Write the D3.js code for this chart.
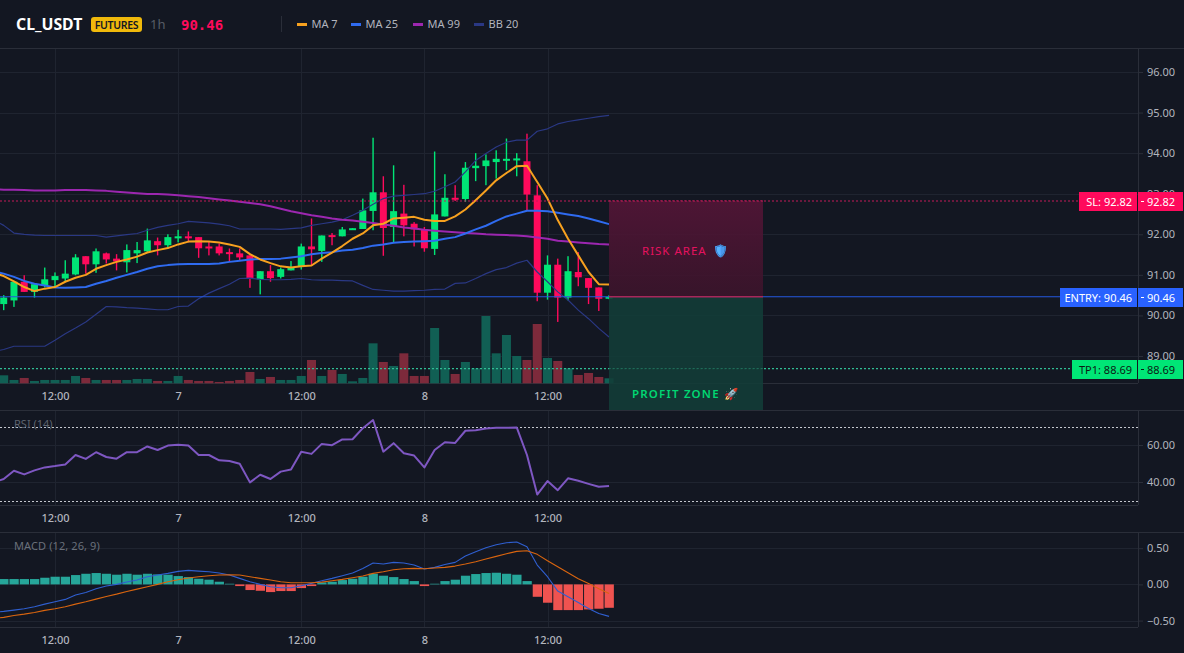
<!DOCTYPE html>
<html>
<head>
<meta charset="utf-8">
<title>CL_USDT 1h</title>
<script src="https://cdn.jsdelivr.net/npm/d3@7/dist/d3.min.js"></script>
<style>
html,body{margin:0;padding:0;background:#131722;overflow:hidden}
svg{display:block}
text{font-family:"Noto Sans",sans-serif}
</style>
</head>
<body>
<svg id="chart" width="1184" height="653"></svg>
<script>
// Hourly bars, numbered relative to the first 12:00 mark on the time axis
const firstBar = -6;
const opens = [90.22,90.28,90.37,90.83,90.58,90.74,90.87,90.91,91.01,91.46,91.26,91.53,91.40,91.31,91.53,91.58,91.83,91.73,91.90,91.95,91.93,91.70,91.70,91.56,91.53,91.48,90.89,91.09,90.95,91.11,91.20,91.70,91.59,91.98,91.95,92.12,92.13,92.575,93.035,92.18,92.51,92.26,92.12,91.64,92.44,92.90,92.87,93.63,93.68,93.78,93.85,93.86,93.80,92.96,90.56,91.25,90.44,91.07,90.92,90.69,90.42];
const highs = [90.35,90.50,90.83,90.99,90.77,91.18,91.06,91.36,91.51,91.46,91.65,91.55,91.51,91.75,91.81,92.14,91.92,92.00,92.11,92.07,91.93,91.81,91.77,91.65,91.65,91.48,91.09,91.24,91.18,91.34,91.77,92.39,91.97,92.03,92.18,92.15,92.88,94.38,93.43,93.70,93.22,92.30,92.18,94.04,93.48,93.21,93.78,94.00,93.97,94.07,94.36,94.00,94.48,93.21,91.48,91.40,91.46,91.56,90.92,90.69,90.50];
const lows = [90.05,90.13,90.21,90.58,90.44,90.69,90.70,90.83,90.99,91.03,91.05,91.28,91.11,91.06,91.29,91.54,91.48,91.65,91.80,91.80,91.42,91.48,91.48,91.335,91.36,90.68,90.52,90.83,90.91,91.11,91.13,91.24,91.32,91.73,91.95,92.12,92.13,92.10,91.47,91.81,91.95,91.70,91.57,91.49,92.44,92.82,92.80,93.31,93.21,93.37,93.58,93.43,92.59,90.35,90.39,89.84,90.37,90.72,90.28,90.11,90.40];
const closes = [90.30,90.44,90.83,90.58,90.77,90.89,90.97,91.03,91.43,91.26,91.58,91.38,91.33,91.61,91.61,91.85,91.73,91.93,91.95,91.90,91.655,91.65,91.53,91.52,91.43,90.90,91.09,90.92,91.14,91.18,91.70,91.63,91.97,91.935,92.12,92.15,92.59,93.035,92.155,92.57,92.22,92.12,91.655,92.49,92.90,92.86,93.64,93.69,93.82,93.86,93.86,93.87,92.98,90.56,91.25,90.44,91.09,90.94,90.68,90.41,90.46];
const volumes = [20,24,10,16,7,10,10,10,22,16,10,10,10,10,13,13,7,7,22,10,7,7,4,7,10,34,13,19,10,10,22,70,22,40,28,6,16,120,64,52,90,22,22,166,70,28,64,45,202,90,145,82,70,178,76,67,45,25,31,19,15];

// Moving averages and Bollinger Bands over the same bars
const ma7 = [91.05,90.97,90.84,90.70,90.60,90.66,90.70,90.83,90.93,91.00,91.15,91.24,91.32,91.38,91.45,91.55,91.61,91.66,91.75,91.82,91.83,91.82,91.80,91.75,91.69,91.51,91.38,91.29,91.21,91.18,91.21,91.23,91.40,91.55,91.71,91.89,92.02,92.22,92.26,92.39,92.41,92.43,92.36,92.33,92.33,92.44,92.61,92.84,93.08,93.33,93.51,93.68,93.69,93.29,92.88,92.35,91.89,91.48,91.07,90.77,90.76];
const ma25 = [91.09,91.03,90.95,90.85,90.78,90.74,90.69,90.68,90.69,90.70,90.78,90.85,90.93,91.00,91.07,91.15,91.21,91.24,91.26,91.27,91.27,91.27,91.28,91.32,91.35,91.38,91.39,91.39,91.40,91.43,91.46,91.51,91.54,91.56,91.60,91.62,91.66,91.72,91.75,91.79,91.81,91.82,91.83,91.84,91.89,91.93,92.02,92.12,92.21,92.33,92.44,92.51,92.58,92.58,92.57,92.53,92.49,92.45,92.39,92.32,92.25];
const ma99 = [93.11,93.10,93.10,93.09,93.08,93.08,93.08,93.09,93.09,93.09,93.08,93.07,93.05,93.03,93.01,92.99,92.99,92.98,92.96,92.94,92.92,92.89,92.86,92.83,92.80,92.77,92.74,92.69,92.63,92.57,92.52,92.47,92.43,92.39,92.36,92.34,92.31,92.28,92.24,92.21,92.17,92.14,92.11,92.09,92.07,92.05,92.03,92.02,92.00,91.99,91.98,91.97,91.95,91.92,91.89,91.84,91.82,91.80,91.78,91.76,91.75];
const bbUpper = [92.36,92.22,92.03,92.00,91.98,91.97,91.97,91.97,91.97,91.97,91.97,91.93,91.96,91.99,92.02,92.10,92.17,92.22,92.26,92.32,92.30,92.28,92.25,92.21,92.13,92.13,92.13,92.13,92.12,92.14,92.16,92.22,92.26,92.30,92.36,92.47,92.59,92.74,92.88,92.94,92.96,92.98,93.00,93.06,93.17,93.29,93.54,93.82,93.99,94.15,94.27,94.32,94.32,94.54,94.60,94.72,94.78,94.82,94.86,94.90,94.93];
const bbLower = [89.11,89.16,89.24,89.24,89.24,89.24,89.39,89.55,89.69,89.84,90.03,90.22,90.21,90.19,90.18,90.16,90.14,90.14,90.22,90.23,90.41,90.55,90.66,90.77,90.91,90.92,90.89,90.88,90.88,90.89,90.91,90.88,90.87,90.87,90.86,90.85,90.74,90.64,90.62,90.60,90.60,90.61,90.62,90.64,90.65,90.79,90.80,90.91,91.03,91.13,91.18,91.29,91.36,91.07,90.83,90.58,90.38,90.13,89.92,89.68,89.47];

// Oscillators
const rsi = [39.8,41.6,46.1,44.1,46.3,47.9,48.6,49.5,54.6,52.5,56.1,53.5,52.6,56.1,56.1,59.2,57.3,59.7,60.2,59.7,54.6,54.6,51.7,51.4,49.9,39.8,43.9,41.6,45.6,46.7,56.4,55.2,60.6,59.9,63.0,63.1,69.1,73.5,56.4,61.0,55.5,54.3,47.9,57.3,61.5,61.1,67.7,68.0,68.9,69.3,69.3,69.5,54.6,33.2,40.5,35.6,42.0,40.7,39.0,37.4,37.8];
const macd = [-0.387,-0.373,-0.355,-0.336,-0.309,-0.272,-0.240,-0.207,-0.147,-0.111,-0.060,-0.023,0,0.032,0.060,0.106,0.129,0.152,0.180,0.194,0.184,0.175,0.157,0.129,0.083,0.037,0,-0.032,-0.046,-0.046,-0.018,0.014,0.051,0.083,0.120,0.157,0.221,0.295,0.281,0.304,0.295,0.267,0.212,0.235,0.276,0.304,0.392,0.452,0.507,0.548,0.576,0.585,0.521,0.267,0.106,-0.092,-0.171,-0.249,-0.332,-0.401,-0.442];
const signal = [-0.470,-0.456,-0.429,-0.410,-0.387,-0.359,-0.336,-0.309,-0.272,-0.240,-0.203,-0.166,-0.134,-0.097,-0.065,-0.032,0,0.037,0.065,0.088,0.106,0.120,0.129,0.134,0.129,0.106,0.083,0.060,0.037,0.023,0.023,0.023,0.032,0.051,0.069,0.092,0.115,0.152,0.175,0.203,0.217,0.221,0.217,0.226,0.235,0.253,0.281,0.313,0.350,0.387,0.424,0.456,0.465,0.415,0.327,0.244,0.161,0.078,0.014,-0.060,-0.124];
const histogram = [0.074,0.074,0.074,0.074,0.074,0.092,0.106,0.106,0.129,0.147,0.157,0.147,0.134,0.147,0.134,0.147,0.138,0.134,0.115,0.101,0.078,0.065,0.037,0.009,-0.023,-0.078,-0.088,-0.106,-0.092,-0.092,-0.051,-0.023,0.028,0.037,0.060,0.078,0.106,0.147,0.120,0.101,0.074,0.046,-0.023,0.009,0.046,0.065,0.120,0.143,0.157,0.161,0.147,0.134,0.046,-0.171,-0.253,-0.355,-0.355,-0.355,-0.346,-0.336,-0.323];

// Axis content
const timeTicks = [0,12,24,36,48];
const timeLabels = ["12:00","7","12:00","8","12:00"];
const priceTicks = [96,95,94,93,92,91,90,89];
const rsiTicks = [60,40];
const rsiBands = [70,30];
const macdTicks = [0.5,0,-0.5];
const legendNames = ["MA 7","MA 25","MA 99","BB 20"];
const entryPrice = 90.46, stopPrice = 92.82, targetPrice = 88.69;

const C = {
  bg:"#131722", grid:"#1f2430", border:"#2a2e39", axis:"#b2b5be",
  up:"#00e676", down:"#ff0a5c", volUp:"#115f54", volDown:"#7d2a3b",
  ma7:"#f7a11f", ma25:"#2f6bf0", ma99:"#9c27b0", bb:"#2a3884", entry:"#2559e0",
  rsi:"#7e57c2", macd:"#2f5fd0", signal:"#d9650f", histUp:"#26a69a", histDown:"#ef5350"
};

const bars = d3.range(opens.length).map(i => firstBar + i);
const svg = d3.select("#chart");
const axisX = 1138, W = 1184;

const x = d3.scaleLinear().domain([0,48]).range([55,547.5]);
const yPrice = d3.scaleLinear().domain([89,96]).range([356,72]);
const yVol = d3.scaleLinear().domain([0,202]).range([383.3,316]);
const yRsi = d3.scaleLinear().domain([30,70]).range([500.5,426.5]);
const yMacd = d3.scaleLinear().domain([-0.5,0.5]).range([620.6,548.2]);

svg.append("rect").attr("width",W).attr("height",653).attr("fill",C.bg);

// Grids and axes for one pane
function drawPane(yScale, ticks, fmt, top, bottom, labelY){
  const g = svg.append("g");
  g.append("g").attr("transform",`translate(${axisX},0)`)
    .call(d3.axisRight(yScale).tickValues(ticks).tickSize(-axisX).tickFormat(""))
    .call(s => s.select(".domain").remove())
    .call(s => s.selectAll("line").attr("stroke",C.grid).attr("shape-rendering","crispEdges"));
  g.append("g").attr("transform",`translate(0,${bottom})`)
    .call(d3.axisBottom(x).tickValues(timeTicks).tickSize(-(bottom-top)).tickFormat(""))
    .call(s => s.select(".domain").remove())
    .call(s => s.selectAll("line").attr("stroke",C.grid).attr("shape-rendering","crispEdges"));
  const right = g.append("g").attr("class","price-axis").attr("transform",`translate(${axisX},0)`)
    .call(d3.axisRight(yScale).tickValues(ticks).tickSize(5).tickPadding(4).tickFormat(fmt));
  right.select(".domain").remove();
  right.selectAll("line").attr("stroke",C.border);
  right.selectAll("text").attr("fill",C.axis).attr("font-size",11).attr("font-family",'"Noto Sans",sans-serif');
  const bottomAxis = g.append("g").attr("transform",`translate(0,${bottom})`)
    .call(d3.axisBottom(x).tickValues(timeTicks).tickSize(0).tickPadding(labelY).tickFormat((d,i) => timeLabels[i]));
  bottomAxis.select(".domain").remove();
  bottomAxis.selectAll("text").attr("fill",C.axis).attr("font-size",11).attr("font-family",'"Noto Sans",sans-serif').attr("font-weight",500);
  [[0,bottom+0.5,axisX,bottom+0.5],[axisX+0.5,top,axisX+0.5,bottom]].forEach(l =>
    g.append("line").attr("x1",l[0]).attr("y1",l[1]).attr("x2",l[2]).attr("y2",l[3]).attr("stroke",C.border));
  return g;
}

drawPane(yPrice, priceTicks, d3.format(".2f"), 48, 383, 9);
drawPane(yRsi, rsiTicks, d3.format(".2f"), 410, 505, 9);
drawPane(yMacd, macdTicks, d3.format(".2f"), 532, 627, 9);

[48,410,532].forEach(y => svg.append("line").attr("x1",0).attr("x2",W).attr("y1",y+0.5).attr("y2",y+0.5).attr("stroke",C.border));

// Volume
const isUp = i => closes[i] >= opens[i];
svg.append("g").selectAll("rect").data(bars).join("rect")
  .attr("x",(d) => x(d)-4.5).attr("width",9)
  .attr("y",(d,i) => yVol(volumes[i])).attr("height",(d,i) => yVol(0)-yVol(volumes[i]))
  .attr("fill",(d,i) => isUp(i) ? C.volUp : C.volDown);

const priceLine = arr => d3.line().x((d,i) => x(bars[i])).y(d => yPrice(d))(arr);
function stroke(path, color, width){
  svg.append("path").attr("d",path).attr("fill","none").attr("stroke",color)
    .attr("stroke-width",width).attr("stroke-linejoin","round");
}

// Candles
const candles = svg.append("g").selectAll("g").data(bars).join("g")
  .attr("fill",(d,i) => isUp(i) ? C.up : C.down);
candles.append("rect")
  .attr("x",d => x(d)-0.7).attr("width",1.4)
  .attr("y",(d,i) => yPrice(highs[i])).attr("height",(d,i) => yPrice(lows[i])-yPrice(highs[i]));
candles.append("rect")
  .attr("x",d => x(d)-3.5).attr("width",7)
  .attr("y",(d,i) => yPrice(Math.max(opens[i],closes[i])))
  .attr("height",(d,i) => Math.max(2,Math.abs(yPrice(opens[i])-yPrice(closes[i]))));

stroke(priceLine(bbUpper), C.bb, 1.2);
stroke(priceLine(bbLower), C.bb, 1.2);
stroke(priceLine(ma99), C.ma99, 2);
stroke(priceLine(ma25), C.ma25, 2);
stroke(priceLine(ma7), C.ma7, 2);

// Trade levels
const levelLine = (p, x2, color, dash, width) => svg.append("line")
  .attr("x1",0).attr("x2",x2).attr("y1",yPrice(p)).attr("y2",yPrice(p))
  .attr("stroke",color).attr("stroke-width",width).attr("stroke-dasharray",dash);
levelLine(entryPrice, 1060, C.entry, null, 1.15);
levelLine(stopPrice, 1079, "#c41a58", "2 2", 1.15);
levelLine(targetPrice, 1072, "#30bd94", "2 2", 1.15);

// Risk and reward zones
const defs = svg.append("defs");
const riskGrad = defs.append("linearGradient").attr("id","riskFill").attr("x1",0).attr("x2",0).attr("y1",0).attr("y2",1);
riskGrad.append("stop").attr("offset",0).attr("stop-color","#551537");
riskGrad.append("stop").attr("offset",1).attr("stop-color","#3c142b");
const shieldTint = defs.append("filter").attr("id","shieldTint").attr("color-interpolation-filters","sRGB");
shieldTint.append("feColorMatrix").attr("type","matrix")
  .attr("values","0.13 0.13 0.13 0 0  0.27 0.27 0.27 0 0  0.42 0.42 0.42 0 0  0 0 0 1 0");
const zoneX = 609, zoneW = 154, zoneBottom = 410;
svg.append("rect").attr("x",zoneX).attr("width",zoneW)
  .attr("y",yPrice(stopPrice)).attr("height",yPrice(entryPrice)-yPrice(stopPrice))
  .attr("fill","url(#riskFill)").attr("fill-opacity",0.88);
svg.append("rect").attr("x",zoneX).attr("width",zoneW)
  .attr("y",yPrice(entryPrice)).attr("height",zoneBottom-yPrice(entryPrice))
  .attr("fill","#123e38").attr("fill-opacity",0.88);
svg.append("line").attr("x1",zoneX).attr("x2",zoneX+zoneW)
  .attr("y1",yPrice(entryPrice)).attr("y2",yPrice(entryPrice))
  .attr("stroke","#a8265a").attr("stroke-width",1.3);
svg.append("line").attr("x1",zoneX).attr("x2",zoneX+zoneW)
  .attr("y1",yPrice(targetPrice)).attr("y2",yPrice(targetPrice))
  .attr("stroke","#2fa985").attr("stroke-dasharray","2 2").attr("opacity",0.35);
svg.append("line").attr("x1",zoneX).attr("x2",zoneX+zoneW)
  .attr("y1",yPrice(stopPrice)).attr("y2",yPrice(stopPrice))
  .attr("stroke","#c41a58").attr("stroke-width",1.15).attr("stroke-dasharray","2 2");
svg.append("text").attr("x",642).attr("y",255)
  .attr("fill","#e5125f").attr("font-size",11.5).attr("letter-spacing",1).text("RISK AREA");
svg.append("text").attr("x",713).attr("y",255).attr("font-size",12)
  .attr("filter","url(#shieldTint)").text("🛡️");
svg.append("text").attr("x",632).attr("y",398)
  .attr("fill","#00d672").attr("font-size",11.5).attr("font-weight",600).attr("letter-spacing",1.2).text("PROFIT ZONE 🚀");

// Level tags on the price axis
[
  {name:"SL",p:stopPrice,left:1079,fill:C.down,ink:"#ffffff"},
  {name:"ENTRY",p:entryPrice,left:1060,fill:"#2962ff",ink:"#ffffff"},
  {name:"TP1",p:targetPrice,left:1072,fill:C.up,ink:"#0b1a14"}
].forEach(t => {
  const cy = Math.round(yPrice(t.p))+0.5, f = d3.format(".2f")(t.p);
  svg.append("rect").attr("x",t.left).attr("y",cy-9.5).attr("width",axisX-t.left-1).attr("height",19).attr("fill",t.fill);
  svg.append("rect").attr("x",axisX).attr("y",cy-9.5).attr("width",W-axisX-1).attr("height",19).attr("fill",t.fill);
  svg.append("text").attr("x",axisX-6).attr("y",cy+4).attr("text-anchor","end").attr("fill",t.ink).attr("font-size",11).text(`${t.name}: ${f}`);
  svg.append("line").attr("x1",axisX+3).attr("x2",axisX+6).attr("y1",cy).attr("y2",cy).attr("stroke",t.ink);
  svg.append("text").attr("x",axisX+9).attr("y",cy+4).attr("fill",t.ink).attr("font-size",11).text(f);
});

// RSI pane
rsiBands.forEach(v => svg.append("line").attr("x1",0).attr("x2",axisX)
  .attr("y1",Math.round(yRsi(v))+0.5).attr("y2",Math.round(yRsi(v))+0.5)
  .attr("stroke","#c4c7ce").attr("stroke-dasharray","2 2"));
stroke(d3.line().x((d,i) => x(bars[i])).y(d => yRsi(d))(rsi), C.rsi, 2);
svg.append("text").attr("x",14).attr("y",428).attr("fill","#5d636e").attr("font-size",11).text("RSI (14)");

// MACD pane
svg.append("g").selectAll("rect").data(bars).join("rect")
  .attr("x",d => x(d)-4.5).attr("width",9.3)
  .attr("y",(d,i) => Math.min(yMacd(histogram[i]),yMacd(0)))
  .attr("height",(d,i) => Math.abs(yMacd(histogram[i])-yMacd(0)))
  .attr("fill",(d,i) => histogram[i] >= 0 ? C.histUp : C.histDown);
stroke(d3.line().x((d,i) => x(bars[i])).y(d => yMacd(d))(macd), C.macd, 1.1);
stroke(d3.line().x((d,i) => x(bars[i])).y(d => yMacd(d))(signal), C.signal, 1.1);
svg.append("text").attr("x",14).attr("y",550).attr("fill","#6a707b").attr("font-size",11).attr("letter-spacing",0.1).text("MACD (12, 26, 9)");

// Header
svg.append("text").attr("x",16).attr("y",30).attr("fill","#ffffff").attr("font-size",15.8).attr("font-weight",700).text("CL_USDT");
svg.append("rect").attr("x",91).attr("y",17).attr("width",51).attr("height",15).attr("rx",3).attr("fill","#f0b90b");
svg.append("text").attr("x",116.5).attr("y",28.5).attr("text-anchor","middle").attr("fill","#131722").attr("font-size",10.5).attr("font-weight",600).attr("letter-spacing",-0.3).text("FUTURES");
svg.append("text").attr("x",150).attr("y",29).attr("fill","#565c66").attr("font-size",13).text("1h");
svg.append("text").attr("x",181).attr("y",30).attr("fill",C.down).attr("font-size",14).attr("font-weight",700)
  .style("font-family",'"DejaVu Sans Mono",monospace').text(d3.format(".2f")(entryPrice));
svg.append("line").attr("x1",281.5).attr("x2",281.5).attr("y1",16).attr("y2",32).attr("stroke",C.border);
const legendColors = [C.ma7,C.ma25,C.ma99,C.bb];
const legendX = [297,351,413,474];
legendNames.forEach((n,i) => {
  svg.append("rect").attr("x",legendX[i]).attr("y",23).attr("width",10).attr("height",3).attr("fill",legendColors[i]);
  svg.append("text").attr("x",legendX[i]+14.5).attr("y",28).attr("fill",C.axis).attr("font-size",11).text(n);
});
</script>
</body>
</html>
